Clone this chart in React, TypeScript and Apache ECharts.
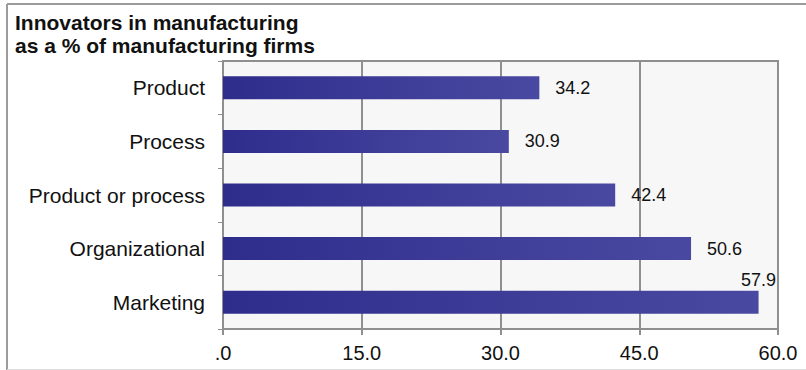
import React, { useEffect, useRef } from "react";
import * as echarts from "echarts";

const categories = ["Product", "Process", "Product or process", "Organizational", "Marketing"];
const values = [34.2, 30.9, 42.4, 50.6, 57.9];
const titleLines = ["Innovators in manufacturing", "as a % of manufacturing firms"];
const axisMin = 0;
const axisMax = 60;
const axisStep = 15;

export default function App() {
  const ref = useRef<HTMLDivElement>(null);
  useEffect(() => {
    if (!ref.current) return;
    const chart = echarts.init(ref.current, null, { renderer: "svg" });
    const barColor = new echarts.graphic.LinearGradient(0, 0, 1, 0, [
      { offset: 0, color: "#2f2d8c" },
      { offset: 1, color: "#4a49a1" },
    ]);
    const data = values.map((v, i) => {
      if (i === values.length - 1) {
        return {
          value: v,
          label: {
            position: ["100%", -2],
            align: "center",
            verticalAlign: "bottom",
          },
        };
      }
      return { value: v };
    });
    chart.setOption({
      animation: false,
      backgroundColor: "#ffffff",
      title: {
        text: titleLines.join("\n"),
        left: 15,
        top: 11,
        padding: 0,
        textStyle: {
          fontFamily: "Liberation Sans, Arial, sans-serif",
          fontSize: 21,
          fontWeight: "bold",
          color: "#111",
          lineHeight: 23,
        },
      },
      graphic: [
        { type: "line", shape: { x1: 7, y1: 4, x2: 806, y2: 4 }, style: { stroke: "#9c9c9c", lineWidth: 2 } },
        { type: "line", shape: { x1: 7, y1: 4, x2: 7, y2: 370 }, style: { stroke: "#9c9c9c", lineWidth: 2 } },
        { type: "line", shape: { x1: 7, y1: 369.5, x2: 806, y2: 369.5 }, style: { stroke: "#dcdcdc", lineWidth: 1 } },
      ],
      grid: {
        left: 223,
        right: 28,
        top: 61,
        bottom: 41,
        show: true,
        backgroundColor: "#f7f7f7",
        borderColor: "#8f8f8f",
        borderWidth: 2,
      },
      xAxis: {
        type: "value",
        min: axisMin,
        max: axisMax,
        interval: axisStep,
        axisLine: { show: true, lineStyle: { color: "#8f8f8f", width: 2 } },
        axisTick: { show: true, length: 6, lineStyle: { color: "#8f8f8f", width: 2 } },
        splitLine: { show: true, lineStyle: { color: "#8f8f8f", width: 2 } },
        axisLabel: {
          margin: 14,
          fontFamily: "Liberation Sans, Arial, sans-serif",
          fontSize: 20,
          color: "#111",
          formatter: (v: number) => (v === 0 ? ".0" : v.toFixed(1)),
        },
      },
      yAxis: {
        type: "category",
        data: categories,
        inverse: true,
        axisLine: { show: true, lineStyle: { color: "#8f8f8f", width: 2 } },
        axisTick: { show: true, length: 5, lineStyle: { color: "#8f8f8f", width: 1 } },
        splitLine: { show: false },
        axisLabel: {
          margin: 18,
          fontFamily: "Liberation Sans, Arial, sans-serif",
          fontSize: 21,
          color: "#111",
        },
      },
      series: [
        {
          type: "bar",
          data,
          barWidth: 23,
          itemStyle: { color: barColor },
          label: {
            show: true,
            position: "right",
            distance: 16,
            fontFamily: "Liberation Sans, Arial, sans-serif",
            fontSize: 18,
            color: "#111",
            formatter: (p: any) => Number(p.value).toFixed(1),
          },
        },
      ],
    });
    return () => chart.dispose();
  }, []);
  return (
    <div
      ref={ref}
      style={{ position: "fixed", left: 0, top: 0, width: 806, height: 370 }}
    />
  );
}
